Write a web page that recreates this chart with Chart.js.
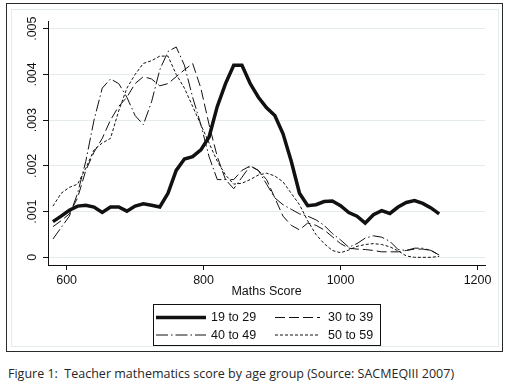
<!DOCTYPE html>
<html>
<head>
<meta charset="utf-8">
<script src="https://cdn.jsdelivr.net/npm/chart.js@4"></script>
<style>
  body { margin: 0; background: #fff; width: 511px; height: 387px; position: relative; overflow: hidden; }
  #frame { position: absolute; left: 6px; top: 3px; width: 497px; height: 349px; box-sizing: border-box; border: 1px solid #2a2a2a; }
  #inner { position: absolute; left: 4px; top: 5px; width: 488px; height: 338px; box-sizing: border-box; border: 1px solid #e3ebed; }
  #chart { position: absolute; left: 0; top: 0; }
  #caption { position: absolute; left: 8px; top: 365px; font-family: "Open Sans", sans-serif; font-size: 12.5px; color: #262626; white-space: pre; }
</style>
</head>
<body>
<div id="frame">
  <div id="inner"></div>
  <canvas id="chart" width="494" height="346"></canvas>
</div>
<div id="caption">Figure 1:  Teacher mathematics score by age group (Source: SACMEQIII 2007)</div>
<script>
// kernel density of maths score, one list per age group
const scores = [580, 592, 604, 616, 628, 640, 652, 664, 676, 688, 700, 712, 724, 736, 748, 760,
  772, 784, 796, 808, 820, 832, 844, 856, 868, 880, 892, 904, 916, 928, 940, 952,
  964, 976, 988, 1000, 1012, 1024, 1036, 1048, 1060, 1072, 1084, 1096, 1108, 1120, 1132, 1144];

const age19to29 = [0.00078, 0.0009, 0.00103, 0.00112, 0.00114, 0.0011, 0.00098, 0.0011, 0.0011, 0.00101, 0.00112, 0.00117,
  0.00114, 0.0011, 0.0014, 0.0019, 0.00215, 0.0022, 0.00235, 0.00263, 0.0033, 0.0038, 0.0042, 0.0042,
  0.0038, 0.0035, 0.00327, 0.0031, 0.0027, 0.0021, 0.0014, 0.00113, 0.00115, 0.00122, 0.00123, 0.00113,
  0.00098, 0.0009, 0.00075, 0.00093, 0.00102, 0.00096, 0.0011, 0.0012, 0.00124, 0.00118, 0.00108, 0.00095];

const age30to39 = [0.00067, 0.0008, 0.00095, 0.0013, 0.0019, 0.0023, 0.0026, 0.003, 0.0033, 0.0035, 0.0038, 0.00395,
  0.0039, 0.00375, 0.0038, 0.00395, 0.0041, 0.00424, 0.0037, 0.0029, 0.0022, 0.0017, 0.0017, 0.0019,
  0.002, 0.0019, 0.0017, 0.0013, 0.0009, 0.0007, 0.0006, 0.00075, 0.0007, 0.0006, 0.00045, 0.0003,
  0.0002, 0.00018, 0.00017, 0.00015, 0.00012, 0.00012, 0.00012, 0.00015, 0.00018, 0.00018, 0.00015, 0.00005];

const age40to49 = [0.0004, 0.00065, 0.0009, 0.0014, 0.0021, 0.003, 0.0037, 0.0039, 0.0038, 0.0035, 0.0031, 0.0029,
  0.0034, 0.0041, 0.0045, 0.0046, 0.0042, 0.0035, 0.0029, 0.0022, 0.0017, 0.0017, 0.0015, 0.00175,
  0.002, 0.0019, 0.0016, 0.0013, 0.00115, 0.00105, 0.00095, 0.0009, 0.00082, 0.0007, 0.00052, 0.00038,
  0.00022, 0.0003, 0.00042, 0.00047, 0.00044, 0.00035, 0.00017, 0.00015, 0.0002, 0.0002, 0.00015, 0.00005];

const age50to59 = [0.00112, 0.0014, 0.00153, 0.0016, 0.00195, 0.00235, 0.0025, 0.0026, 0.0032, 0.0037, 0.004, 0.00424,
  0.0043, 0.0044, 0.0044, 0.004, 0.0037, 0.0033, 0.0029, 0.0025, 0.0021, 0.0018, 0.0016, 0.00162,
  0.0017, 0.0018, 0.00184, 0.00178, 0.00165, 0.0014, 0.00115, 0.0008, 0.0005, 0.0003, 0.00015, 0.0001,
  0.00016, 0.00024, 0.00028, 0.0003, 0.00028, 0.00023, 0.00014, 0.00003, 0, 0, 0, 0.00002];

const groups = ["19 to 29", "30 to 39", "40 to 49", "50 to 59"];
const xTicks = [600, 800, 1000, 1200];
const yTicks = [0, 0.001, 0.002, 0.003, 0.004, 0.005];

const FONT = "'Liberation Sans', Arial, sans-serif";
const ink = "#111";

function points(values) {
  return scores.map((x, i) => ({ x: x, y: values[i] }));
}

// Stata style boxed legend, 2 x 2
const boxedLegend = {
  id: "boxedLegend",
  afterDraw(chart) {
    const ctx = chart.ctx;
    const left = 146, top = 300, w = 227, h = 41;
    ctx.save();
    ctx.strokeStyle = ink;
    ctx.lineWidth = 1;
    ctx.setLineDash([]);
    ctx.strokeRect(left + 0.5, top + 0.5, w, h);
    ctx.font = "12.5px " + FONT;
    ctx.fillStyle = ink;
    ctx.textBaseline = "middle";
    chart.data.datasets.forEach((ds, i) => {
      const col = i % 2, row = Math.floor(i / 2);
      const y = top + 13.5 + row * 17.5;
      const x0 = col === 0 ? left + 3 : left + 122;
      const x1 = col === 0 ? left + 53 : left + 167;
      ctx.beginPath();
      ctx.lineWidth = ds.borderWidth;
      ctx.setLineDash(ds.borderDash || []);
      ctx.strokeStyle = ds.borderColor;
      ctx.moveTo(x0, y);
      ctx.lineTo(x1, y);
      ctx.stroke();
      ctx.fillText(ds.label, col === 0 ? left + 58 : left + 175, y + 0.5);
    });
    ctx.restore();
  }
};

const ctx = document.getElementById("chart").getContext("2d");

new Chart(ctx, {
  type: "line",
  data: {
    datasets: [
      { label: groups[0], data: points(age19to29), borderColor: ink, borderWidth: 3.5, borderDash: [] },
      { label: groups[1], data: points(age30to39), borderColor: ink, borderWidth: 1, borderDash: [10, 4] },
      { label: groups[2], data: points(age40to49), borderColor: ink, borderWidth: 1, borderDash: [12, 3, 1.5, 3] },
      { label: groups[3], data: points(age50to59), borderColor: ink, borderWidth: 1, borderDash: [3, 2] },
    ],
  },
  options: {
    responsive: false,
    animation: false,
    layout: { padding: { top: 17, right: 16, left: 0, bottom: 49 } },
    elements: { point: { radius: 0 }, line: { tension: 0 } },
    plugins: { legend: { display: false }, tooltip: { enabled: false } },
    scales: {
      x: {
        type: "linear",
        min: 572.8,
        max: 1210.9,
        afterBuildTicks: (axis) => { axis.ticks = xTicks.map((v) => ({ value: v })); },
        afterFit: (axis) => { axis.height = 36; },
        border: { color: ink, width: 1 },
        grid: { drawOnChartArea: false, tickColor: ink, tickLength: 5 },
        ticks: { color: ink, font: { family: FONT, size: 12.5 }, padding: 3, maxRotation: 0, callback: (v) => String(v) },
        title: { display: true, text: "Maths Score", color: ink, font: { family: FONT, size: 12.5 }, padding: { top: 0, bottom: 2 } },
      },
      y: {
        min: -0.000168,
        max: 0.005168,
        afterBuildTicks: (axis) => { axis.ticks = yTicks.map((v) => ({ value: v })); },
        afterFit: (axis) => { axis.width = 41; },
        border: { color: ink, width: 1 },
        grid: { color: "#e3ebed", tickColor: ink, tickLength: 5 },
        ticks: {
          color: ink,
          font: { family: FONT, size: 12.5 },
          minRotation: 90,
          maxRotation: 90,
          autoSkip: false,
          crossAlign: "center",
          padding: -2,
          callback: (v) => (v === 0 ? "0" : v.toFixed(3).replace(/^0/, "")),
        },
      },
    },
  },
  plugins: [boxedLegend],
});
</script>
</body>
</html>
